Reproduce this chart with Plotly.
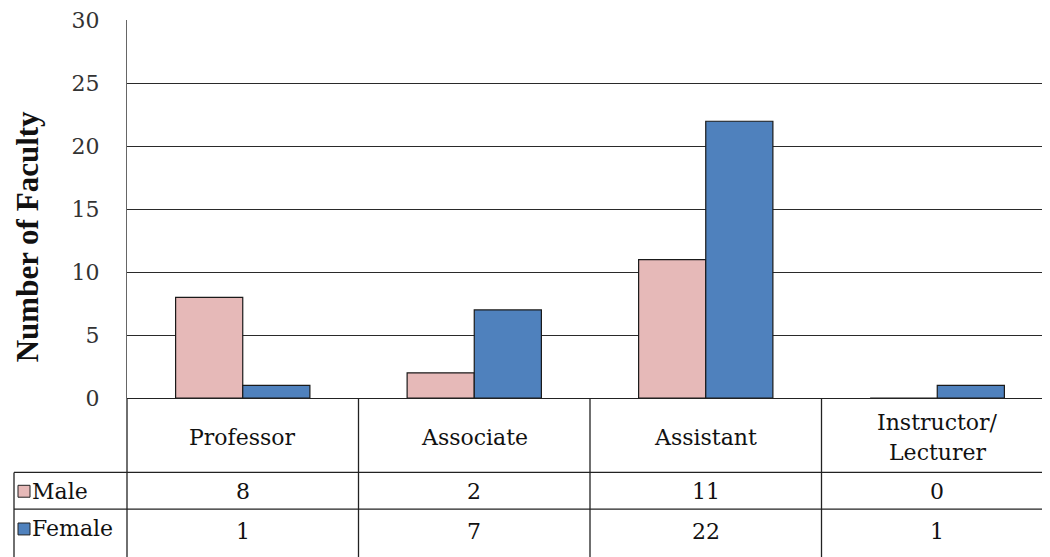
import plotly.graph_objects as go

categories = ["Professor", "Associate", "Assistant", "Instructor/<br>Lecturer"]
male = [8, 2, 11, 0]
female = [1, 7, 22, 1]
series_names = ["Male", "Female"]
y_ticks = [0, 5, 10, 15, 20, 25, 30]

MALE_C = "#E6B9B8"
FEMALE_C = "#4F81BD"
FONT = "DejaVu Serif"
TITLE_FONT = "Liberation Serif, Times New Roman, serif"
OFF = 8  # page body margin
W, H = 1050 - OFF, 557 - OFF
L, T = 127 - OFF, 17 - OFF
PB = 398 - OFF
R, B = 0, H - PB
PW, PH = W - L - R, H - T - B
XR = [-0.5, -0.5 + PW / 231.5]
YR = [0, 30.05]

def px_x(px):
    return (px - OFF - L) / PW

def px_y(py):
    return (PB - (py - OFF)) / PH

def data_x(x):
    return (x - XR[0]) / (XR[1] - XR[0])

xs = list(range(len(categories)))
fig = go.Figure()
for name, vals, col in [(series_names[0], male, MALE_C), (series_names[1], female, FEMALE_C)]:
    fig.add_trace(go.Bar(x=xs, y=vals, name=name, marker=dict(color=col, line=dict(color="#1a1a1a", width=1.2))))

shapes = []
LINE = dict(color="#222222", width=1.3)
for i in range(len(categories) + 1):
    xp = data_x(i - 0.5)
    if xp <= 1.0:
        shapes.append(dict(type="line", xref="paper", yref="paper", x0=xp, x1=xp, y0=0, y1=px_y(575), line=LINE))
shapes.append(dict(type="line", xref="paper", yref="paper", x0=px_x(14), x1=px_x(14), y0=px_y(473), y1=px_y(575), line=LINE))
for py in [473, 510]:
    shapes.append(dict(type="line", xref="paper", yref="paper", x0=px_x(14), x1=1.0, y0=px_y(py), y1=px_y(py), line=LINE))

TXT = dict(family=FONT, size=22, color="#111")
annotations = []
for i, c in enumerate(categories):
    lines = c.split("<br>")
    n = len(lines)
    for k, ln in enumerate(lines):
        yc = 438 + (k - (n - 1) / 2) * 30
        annotations.append(dict(x=data_x(i), y=px_y(yc), xref="paper", yref="paper", text=ln, showarrow=False,
                                font=TXT, xanchor="center", yanchor="middle"))
    annotations.append(dict(x=data_x(i), y=px_y(492), xref="paper", yref="paper", text=str(male[i]), showarrow=False,
                            font=TXT, xanchor="center", yanchor="middle"))
    annotations.append(dict(x=data_x(i), y=px_y(533), xref="paper", yref="paper", text=str(female[i]), showarrow=False,
                            font=TXT, xanchor="center", yanchor="middle"))

for name, col, py in [(series_names[0], MALE_C, 492), (series_names[1], FEMALE_C, 530)]:
    shapes.append(dict(type="rect", xref="paper", yref="paper", x0=px_x(18), x1=px_x(30), y0=px_y(py + 6), y1=px_y(py - 6),
                       fillcolor=col, line=dict(color="#222", width=1)))
    annotations.append(dict(x=px_x(30), y=px_y(py), xref="paper", yref="paper", text=name, showarrow=False,
                            font=TXT, xanchor="left", yanchor="middle"))

annotations.append(dict(x=px_x(27), y=px_y(236), xref="paper", yref="paper", text="<b>Number of Faculty</b>", showarrow=False,
                        textangle=-90, font=dict(family=TITLE_FONT, size=31, color="#111"),
                        xanchor="center", yanchor="middle"))

fig.update_layout(
    width=W, height=H,
    margin=dict(l=L, r=R, t=T, b=B, pad=0),
    paper_bgcolor="white", plot_bgcolor="white",
    barmode="group", bargap=0.42, bargroupgap=0,
    showlegend=False,
    shapes=shapes, annotations=annotations,
    xaxis=dict(range=XR, showticklabels=False, showgrid=False, zeroline=False, showline=False, ticks=""),
    yaxis=dict(range=YR, tickvals=y_ticks, showgrid=True, gridcolor="#2a2a2a", gridwidth=1.3,
               zeroline=True, zerolinecolor="#222", zerolinewidth=1.3,
               showline=True, linecolor="#666", linewidth=1,
               ticks="outside", ticklen=22, tickcolor="rgba(0,0,0,0)", ticklabeloverflow="allow",
               tickfont=dict(family=FONT, size=22, color="#333")),
)

fig.write_html("out.html")
